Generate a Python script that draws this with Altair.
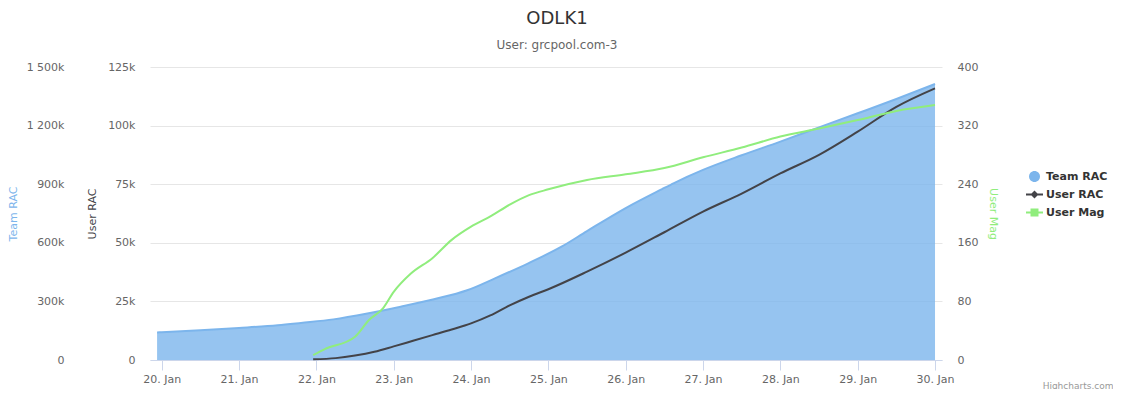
import altair as alt
import pandas as pd

# ---------------- data ----------------
team_times = ["2018-01-19 22:34", "2018-01-20 00:00", "2018-01-20 12:00", "2018-01-21 00:00",
              "2018-01-21 12:00", "2018-01-21 19:12", "2018-01-22 05:17", "2018-01-22 15:50",
              "2018-01-23 02:10", "2018-01-23 12:29", "2018-01-23 22:48", "2018-01-24 07:26",
              "2018-01-24 17:46", "2018-01-25 04:05", "2018-01-25 12:00", "2018-01-26 00:00",
              "2018-01-26 11:17", "2018-01-26 15:00", "2018-01-27 00:00", "2018-01-27 12:00",
              "2018-01-28 00:00", "2018-01-28 12:00", "2018-01-29 00:00", "2018-01-29 12:00",
              "2018-01-30 00:00"]
team_rac = [141000, 142000, 152000, 164000, 178000, 190000, 208000, 238000, 273000, 311000,
            357000, 418000, 495000, 580000, 660000, 778000, 875000, 906000, 973000, 1048000,
            1118000, 1191000, 1263000, 1336000, 1413000]

user_times = ["2018-01-21 23:00", "2018-01-22 06:00", "2018-01-22 12:00", "2018-01-22 18:00",
              "2018-01-23 00:00", "2018-01-23 06:00", "2018-01-23 12:00", "2018-01-23 18:00",
              "2018-01-24 00:00", "2018-01-24 06:00", "2018-01-24 12:00", "2018-01-24 18:00",
              "2018-01-25 00:00", "2018-01-25 12:00", "2018-01-26 00:00", "2018-01-26 12:00",
              "2018-01-27 00:00", "2018-01-27 12:00", "2018-01-28 00:00", "2018-01-28 12:00",
              "2018-01-29 00:00", "2018-01-29 12:00", "2018-01-30 00:00"]
user_rac = [300, 800, 1900, 3500, 5800, 8200, 10600, 13000, 15600, 19000, 23300, 27000,
            30200, 37700, 45800, 54500, 63300, 71000, 79600, 87500, 97400, 108000, 115900]

mag_times = ["2018-01-21 23:00", "2018-01-22 02:30", "2018-01-22 12:00", "2018-01-22 16:20",
             "2018-01-22 20:40", "2018-01-23 00:00", "2018-01-23 05:20", "2018-01-23 12:00",
             "2018-01-23 18:00", "2018-01-24 00:00", "2018-01-24 06:00", "2018-01-24 12:00",
             "2018-01-24 18:00", "2018-01-25 00:00", "2018-01-25 12:00", "2018-01-26 00:00",
             "2018-01-26 12:00", "2018-01-27 00:00", "2018-01-27 12:00", "2018-01-28 00:00",
             "2018-01-28 12:00", "2018-01-29 00:00", "2018-01-29 12:00", "2018-01-30 00:00"]
user_mag = [6.8, 14.6, 31.8, 54.6, 70.6, 93, 118, 139, 164, 182, 196, 212, 225, 233, 245.7,
            253.5, 262, 276.7, 290, 305, 316, 327.6, 340, 348]

series_names = ["Team RAC", "User RAC", "User Mag"]
series_colors = ["#7cb5ec", "#434348", "#90ed7d"]
team_ticks = [0, 300000, 600000, 900000, 1200000, 1500000]
user_ticks = [0, 25000, 50000, 75000, 100000, 125000]
mag_ticks = [0, 80, 160, 240, 320, 400]
day_ticks = list(range(20, 31))


def iso(s):
    return s.replace(" ", "T") + ":00Z"


team_df = pd.DataFrame({"t": [iso(s) for s in team_times], "v": team_rac})
user_df = pd.DataFrame({"t": [iso(s) for s in user_times], "v": user_rac})
mag_df = pd.DataFrame({"t": [iso(s) for s in mag_times], "v": user_mag})

FONT = "DejaVu Sans"
GRID = "#e6e6e6"

x_enc = alt.X(
    "t:T",
    scale=alt.Scale(type="utc", domain=[
        alt.DateTime(year=2018, month=1, date=19, hours=20, minutes=22, utc=True),
        alt.DateTime(year=2018, month=1, date=30, hours=2, minutes=10, utc=True)]),
    axis=alt.Axis(
        values=[alt.DateTime(year=2018, month=1, date=d, utc=True) for d in day_ticks],
        format="%d. %b", grid=False, domainColor="#ccd6eb", tickColor="#ccd6eb",
        tickSize=10, labelPadding=3, labelColor="#666666", labelFontSize=11, labelFont=FONT,
        title="Highcharts.com", titleFontSize=9, titleColor="#999999", titleFont=FONT,
        titleFontWeight="normal", titleX=963, titleY=28, titleAlign="right",
        titleBaseline="alphabetic", titleAngle=0),
)

team_layer = alt.Chart(team_df).mark_area(
    fill="#7cb5ec", fillOpacity=0.8, interpolate="monotone",
    line={"color": "#7cb5ec", "strokeWidth": 2},
).encode(
    x=x_enc,
    y=alt.Y("v:Q", scale=alt.Scale(domain=[0, 1500000], nice=False),
            axis=alt.Axis(orient="left", values=team_ticks, grid=False, ticks=False,
                          domain=False, offset=71, labelPadding=15,
                          labelExpr="datum.value == 0 ? '0' : replace(format(datum.value / 1000, ','), ',', ' ') + 'k'",
                          title="Team RAC", titleColor="#7cb5ec", titlePadding=8)),
)

user_layer = alt.Chart(user_df).mark_line(
    color="#434348", strokeWidth=2, interpolate="monotone"
).encode(
    x=x_enc,
    y=alt.Y("v:Q", scale=alt.Scale(domain=[0, 125000], nice=False),
            axis=alt.Axis(orient="left", values=user_ticks, grid=True, gridColor=GRID,
                          ticks=False, domain=False, labelPadding=15,
                          labelExpr="datum.value == 0 ? '0' : format(datum.value / 1000, 'd') + 'k'",
                          title="User RAC", titleColor="#434348", titlePadding=10)),
)

mag_layer = alt.Chart(mag_df).mark_line(
    color="#90ed7d", strokeWidth=2, interpolate="monotone"
).encode(
    x=x_enc,
    y=alt.Y("v:Q", scale=alt.Scale(domain=[0, 400], nice=False),
            axis=alt.Axis(orient="right", values=mag_ticks, grid=False, ticks=False,
                          domain=False, labelPadding=15,
                          title="User Mag", titleColor="#90ed7d", titlePadding=10)),
)

circle = "M0.647,0 A0.647,0.647 0 1,1 -0.647,0 A0.647,0.647 0 1,1 0.647,0 Z"
line_diamond = "M-1,-0.12 H1 V0.12 H-1 Z M0,-0.47 L0.47,0 L0,0.47 L-0.47,0 Z"
line_square = "M-1,-0.12 H1 V0.12 H-1 Z M-0.47,-0.47 H0.47 V0.47 H-0.47 Z"

legend_kw = dict(orient="none", legendX=876, legendY=101, title=None, padding=0,
                 labelFont=FONT, labelFontSize=11, labelFontWeight="bold",
                 labelColor="#333333", symbolSize=289, symbolStrokeWidth=0,
                 symbolOpacity=1, rowPadding=4, labelOffset=3)

legend_layer = alt.Chart(user_df).transform_filter("false").transform_calculate(
    series="'User RAC'"
).mark_point(filled=True, opacity=1).encode(
    x=x_enc,
    y=alt.Y("v:Q", axis=None),
    color=alt.Color("series:N", scale=alt.Scale(domain=series_names, range=series_colors),
                    legend=alt.Legend(**legend_kw)),
    shape=alt.Shape("series:N", scale=alt.Scale(domain=series_names,
                                                range=[circle, line_diamond, line_square]),
                    legend=alt.Legend(**legend_kw)),
)

chart = alt.layer(team_layer, user_layer, mag_layer, legend_layer).resolve_scale(
    y="independent"
).properties(
    width=792, height=293,
    padding={"left": 142, "top": 59, "right": 171, "bottom": 29},
    autosize=alt.AutoSizeParams(type="none"),
    title=alt.TitleParams(text="ODLK1", subtitle="User: grcpool.com-3", font=FONT,
                          fontSize=18, fontWeight="normal", color="#333333",
                          subtitleFont=FONT, subtitleFontSize=12, subtitleColor="#666666",
                          anchor="middle", dx=11, offset=10, subtitlePadding=12),
).configure_view(stroke=None).configure_axis(
    labelFont=FONT, labelFontSize=11, labelColor="#666666",
    titleFont=FONT, titleFontSize=11, titleFontWeight="normal",
)

chart.save("out.html", embed_options={"renderer": "svg", "actions": False})
